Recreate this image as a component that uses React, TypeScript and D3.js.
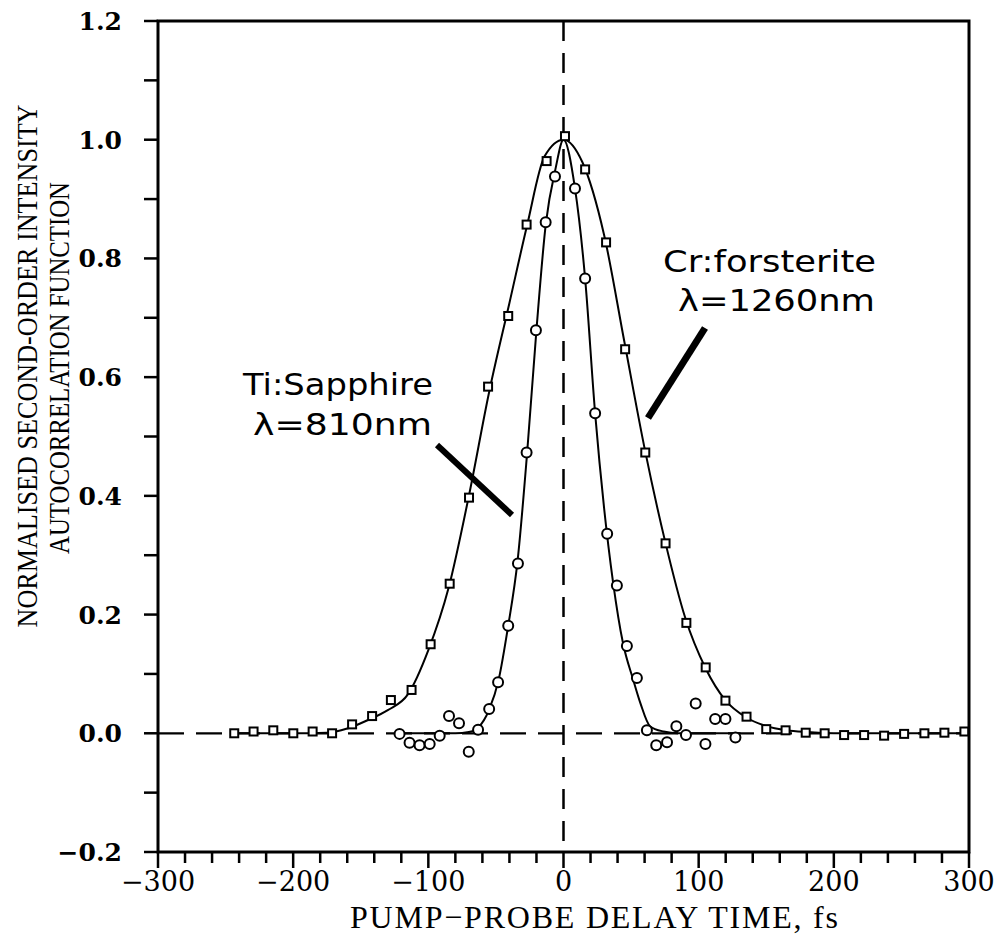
import React from "react";
import * as d3 from "d3";

// Cr:forsterite (squares) measured points
const crX = [-243.6,-229.3,-214.7,-199.9,-185.6,-171.2,-156.4,-141.6,-127.7,-112.4,-98.3,-84.2,-69.9,-55.8,-40.9,-27.3,-12.5,1.1,16,31.5,45.6,60.5,75.5,90.9,105.2,119.8,135.4,150,164.3,179.2,193.2,207.6,222.4,237.2,252,267,281.8,296.6];
const crY = [0,0.003,0.005,0,0.003,0,0.015,0.029,0.056,0.073,0.15,0.252,0.397,0.584,0.703,0.857,0.964,1.006,0.95,0.827,0.647,0.473,0.32,0.186,0.111,0.055,0.028,0.007,0.005,0.001,0,-0.003,-0.003,-0.004,-0.001,0,0.001,0.003];

// Ti:Sapphire (circles) measured points
const tiX = [-121.3,-113.9,-106.5,-99,-91.6,-84.7,-77.3,-70.1,-63.2,-55,-48.4,-40.9,-33.7,-27.3,-20.4,-13.2,-6.3,8.5,16,23.4,32.3,39.5,46.9,54.3,61.7,68.6,76.6,83.5,90.6,97.8,105,112.2,119.8,127.2];
const tiY = [-0.001,-0.016,-0.02,-0.018,-0.004,0.029,0.017,-0.031,0.006,0.041,0.086,0.181,0.286,0.473,0.679,0.861,0.938,0.918,0.766,0.539,0.336,0.249,0.147,0.093,0.005,-0.02,-0.015,0.012,-0.003,0.05,-0.018,0.024,0.024,-0.007];

// Fitted curves
const crFitX = [-245,-200,-175,-160,-145,-130,-115,-100,-85,-70,-55,-40,-27,-14,0,14,30,45,60,75,90,105,120,135,150,165,180,200,300];
const crFitY = [0,0,0.001,0.008,0.022,0.039,0.066,0.14,0.245,0.4,0.575,0.725,0.855,0.972,1.0,0.962,0.84,0.66,0.48,0.325,0.195,0.11,0.055,0.027,0.012,0.005,0.002,0,0];
const tiFitX = [-122,-100,-80,-70,-63,-55,-48,-41,-34,-27,-20,-13,-6,0,8.5,16,23.4,30,36.7,44,51.6,57,64,74,85,131];
const tiFitY = [0,0,0,0.002,0.01,0.04,0.09,0.18,0.29,0.47,0.68,0.86,0.95,1.0,0.918,0.766,0.539,0.38,0.254,0.152,0.09,0.05,0.012,0.003,0,0];

const xMajorTicks = [-300,-200,-100,0,100,200,300];
const yLabelTicks = [-0.2,0,0.2,0.4,0.6,0.8,1.0,1.2];

const W = 1001, H = 934;
const L = 158, R = 969, T = 21, B = 852;

const fmtMinus = (s: string) => s.replace("-", "\u2212");

export default function App() {
  const x = d3.scaleLinear().domain([-300, 300]).range([L, R]);
  const y = d3.scaleLinear().domain([-0.2, 1.2]).range([B, T]);

  const line = d3.line<[number, number]>()
    .x(d => x(d[0])).y(d => y(d[1])).curve(d3.curveMonotoneX);

  const crFit = crFitX.map((v, i) => [v, crFitY[i]] as [number, number]);
  const tiFit = tiFitX.map((v, i) => [v, tiFitY[i]] as [number, number]);

  const xMinor = d3.range(-300, 301, 20);
  const yMinor = d3.range(-2, 13).map(v => v / 10);

  const serif = "'DejaVu Serif', serif";
  const times = "'Liberation Serif', 'Times New Roman', serif";
  const sans = "'DejaVu Sans', sans-serif";
  const sq = 8;

  return (
    <svg width={W} height={H} style={{ position: "absolute", left: 0, top: 0, background: "#fff" }}>
      <rect x={0} y={0} width={W} height={H} fill="#fff" />
      {/* dashed reference lines */}
      <line x1={x(-300)} x2={x(300)} y1={y(0)} y2={y(0)} stroke="#000" strokeWidth={2.2} strokeDasharray="26 12" />
      <line x1={x(0)} x2={x(0)} y1={T} y2={B} stroke="#000" strokeWidth={2.5} strokeDasharray="20 12" />

      {/* fits */}
      <path d={line(crFit) || ""} fill="none" stroke="#000" strokeWidth={2} />
      <path d={line(tiFit) || ""} fill="none" stroke="#000" strokeWidth={2} />

      {/* markers */}
      {crX.map((v, i) => (
        <rect key={"s" + i} x={x(v) - sq / 2} y={y(crY[i]) - sq / 2} width={sq} height={sq}
          fill="#fff" stroke="#000" strokeWidth={2} />
      ))}
      {tiX.map((v, i) => (
        <circle key={"c" + i} cx={x(v)} cy={y(tiY[i])} r={5} fill="#fff" stroke="#000" strokeWidth={2} />
      ))}

      {/* frame */}
      <rect x={L} y={T} width={R - L} height={B - T} fill="none" stroke="#000" strokeWidth={3} />

      {/* x ticks */}
      {xMinor.map(v => {
        const major = v % 100 === 0;
        return <line key={"xt" + v} x1={x(v)} x2={x(v)} y1={B} y2={B + (major ? 16 : 11)} stroke="#000" strokeWidth={2.5} />;
      })}
      {xMajorTicks.map(v => (
        <text key={"xl" + v} x={x(v)} y={891} textAnchor="middle" fontFamily={serif} fontSize={27} fill="#000">
          {fmtMinus(String(v))}
        </text>
      ))}

      {/* y ticks */}
      {yMinor.map(v => (
        <line key={"yt" + v} x1={L - 14} x2={L} y1={y(v)} y2={y(v)} stroke="#000" strokeWidth={2.5} />
      ))}
      {yLabelTicks.map(v => (
        <text key={"yl" + v} x={122} y={y(v)} dy="0.36em" textAnchor="end" fontFamily={serif} fontWeight="bold" fontSize={25} fill="#000">
          {fmtMinus(d3.format(".1f")(v))}
        </text>
      ))}

      {/* axis titles */}
      <text x={594} y={928} textAnchor="middle" fontFamily={times} fontSize={32} fill="#000"
        textLength={488} lengthAdjust="spacing">
        PUMP{"\u2212"}PROBE DELAY TIME, fs
      </text>
      <text transform="translate(37,366) rotate(-90)" textAnchor="middle" fontFamily={times} fontSize={30} fill="#000"
        textLength={523} lengthAdjust="spacingAndGlyphs">
        NORMALISED SECOND-ORDER INTENSITY
      </text>
      <text transform="translate(69,368) rotate(-90)" textAnchor="middle" fontFamily={times} fontSize={30} fill="#000"
        textLength={372} lengthAdjust="spacingAndGlyphs">
        AUTOCORRELATION FUNCTION
      </text>

      {/* annotations */}
      <text x={243} y={395} fontFamily={sans} fontSize={30} fill="#000" textLength={190} lengthAdjust="spacingAndGlyphs">Ti:Sapphire</text>
      <text x={253} y={435} fontFamily={sans} fontSize={30} fill="#000" textLength={179} lengthAdjust="spacingAndGlyphs">{"\u03bb=810nm"}</text>
      <line x1={437} y1={445} x2={512} y2={515} stroke="#000" strokeWidth={6} />

      <text x={663} y={272} fontFamily={sans} fontSize={31} fill="#000" textLength={213} lengthAdjust="spacingAndGlyphs">Cr:forsterite</text>
      <text x={678} y={311} fontFamily={sans} fontSize={31} fill="#000" textLength={197} lengthAdjust="spacingAndGlyphs">{"\u03bb=1260nm"}</text>
      <line x1={705} y1={328} x2={648} y2={418} stroke="#000" strokeWidth={7} />
    </svg>
  );
}
